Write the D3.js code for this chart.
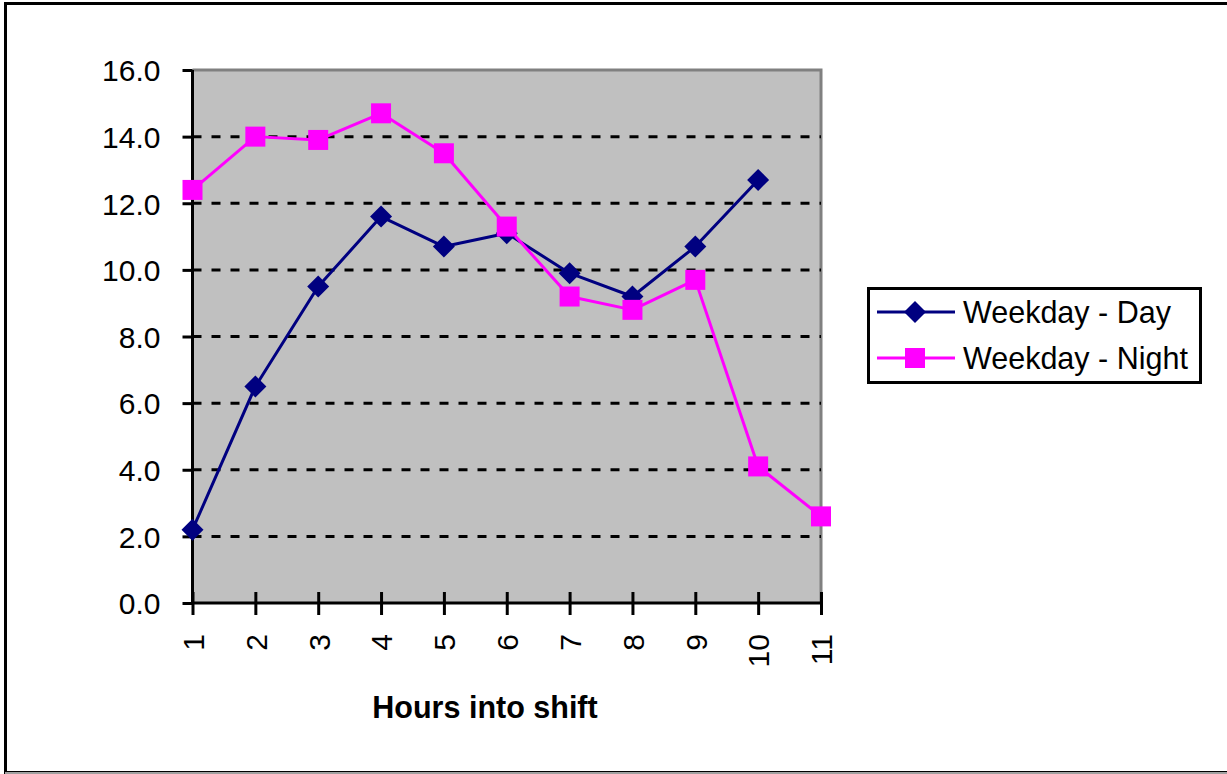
<!DOCTYPE html>
<html>
<head>
<meta charset="utf-8">
<script src="https://cdn.jsdelivr.net/npm/d3@7"></script>
<style>
  html, body { margin: 0; padding: 0; background: #fff; }
  svg { display: block; font-family: Arial, "Liberation Sans", sans-serif; }
</style>
</head>
<body>
<svg id="chart" width="1227" height="774"></svg>
<script>
// Hours into the shift (category axis)
const hours = ["1", "2", "3", "4", "5", "6", "7", "8", "9", "10", "11"];
// Values per hour for each shift type
const weekdayDay = [2.2, 6.5, 9.5, 11.6, 10.7, 11.1, 9.9, 9.2, 10.7, 12.7];
const weekdayNight = [12.4, 14.0, 13.9, 14.7, 13.5, 11.3, 9.2, 8.8, 9.7, 4.1, 2.6];
const yTicks = [0, 2, 4, 6, 8, 10, 12, 14, 16];
const seriesNames = ["Weekday - Day", "Weekday - Night"];

const svg = d3.select("#chart");

// outer chart frame
svg.append("rect")
  .attr("x", 5.5).attr("y", 3.5)
  .attr("width", 1240).attr("height", 769)
  .attr("fill", "none").attr("stroke", "#000").attr("stroke-width", 3);
svg.append("line")
  .attr("x1", 5).attr("x2", 1227).attr("y1", 773).attr("y2", 773)
  .attr("stroke", "#a0a0a0").attr("stroke-width", 2);

const plot = { left: 192.5, right: 821, top: 70, bottom: 603 };

const x = d3.scalePoint().domain(hours).range([plot.left, plot.right]).padding(0);
const y = d3.scaleLinear().domain([0, 16]).range([plot.bottom, plot.top]);

// plot background
svg.append("rect")
  .attr("x", plot.left).attr("y", plot.top)
  .attr("width", plot.right - plot.left).attr("height", plot.bottom - plot.top)
  .attr("fill", "#c0c0c0");

// plot border (top and right)
svg.append("path")
  .attr("d", `M${plot.left},${plot.top}H${plot.right}V${plot.bottom}`)
  .attr("fill", "none").attr("stroke", "#808080").attr("stroke-width", 3);

// dashed gridlines
svg.append("g")
  .selectAll("line")
  .data(yTicks.filter(v => v > 0 && v < 16))
  .join("line")
  .attr("x1", plot.left).attr("x2", plot.right)
  .attr("y1", d => y(d)).attr("y2", d => y(d))
  .attr("stroke", "#000").attr("stroke-width", 3)
  .attr("stroke-dasharray", "9,10");

// y axis
const yAxis = svg.append("g")
  .attr("transform", `translate(${plot.left},0)`)
  .call(d3.axisLeft(y).tickValues(yTicks).tickFormat(d3.format(".1f")).tickSize(10).tickPadding(22));
yAxis.select(".domain").attr("stroke-width", 3).attr("d", `M0,${plot.top}V${plot.bottom}`);
yAxis.selectAll(".tick line").attr("stroke-width", 3);
yAxis.selectAll(".tick text")
  .attr("font-size", 30).attr("font-family", "Arial, 'Liberation Sans', sans-serif")
  .attr("fill", "#000").attr("dy", "0.36em");

// x axis
const xAxis = svg.append("g")
  .attr("transform", `translate(0,${plot.bottom})`)
  .call(d3.axisBottom(x).tickSize(12).tickSizeOuter(0));
xAxis.select(".domain").attr("stroke-width", 3).attr("d", `M${plot.left},0H${plot.right}`);
xAxis.selectAll(".tick line").attr("stroke-width", 3).attr("y1", -11).attr("y2", 12);
xAxis.selectAll(".tick text")
  .attr("font-size", 30).attr("font-family", "Arial, 'Liberation Sans', sans-serif")
  .attr("fill", "#000")
  .attr("transform", "rotate(-90)")
  .attr("text-anchor", "end")
  .attr("x", -31).attr("y", 0).attr("dy", "0.36em");

// axis title
svg.append("text")
  .attr("x", 485).attr("y", 718)
  .attr("text-anchor", "middle")
  .attr("font-size", 30.5).attr("font-weight", "bold")
  .text("Hours into shift");

// series lines and markers
const line = d3.line().x((d, i) => x(hours[i])).y(d => y(d));
const colors = ["#000080", "#ff00ff"];

svg.append("path").datum(weekdayDay)
  .attr("d", line).attr("fill", "none")
  .attr("stroke", colors[0]).attr("stroke-width", 3).attr("stroke-linejoin", "round");
svg.append("path").datum(weekdayNight)
  .attr("d", line).attr("fill", "none")
  .attr("stroke", colors[1]).attr("stroke-width", 3).attr("stroke-linejoin", "round");

const diamond = "M0,-11L11,0L0,11L-11,0Z";
const square = "M-10,-10H10V10H-10Z";

svg.append("g").selectAll("path")
  .data(weekdayDay).join("path")
  .attr("transform", (d, i) => `translate(${x(hours[i])},${y(d)})`)
  .attr("d", diamond).attr("fill", colors[0]);
svg.append("g").selectAll("path")
  .data(weekdayNight).join("path")
  .attr("transform", (d, i) => `translate(${x(hours[i])},${y(d)})`)
  .attr("d", square).attr("fill", colors[1]);

// legend
const legend = svg.append("g");
legend.append("rect")
  .attr("x", 868.5).attr("y", 288.5).attr("width", 332).attr("height", 94)
  .attr("fill", "#fff").attr("stroke", "#000").attr("stroke-width", 3);
const markers = [diamond, square];
seriesNames.forEach((name, i) => {
  const cy = 312 + i * 46;
  legend.append("line")
    .attr("x1", 877).attr("x2", 955).attr("y1", cy).attr("y2", cy)
    .attr("stroke", colors[i]).attr("stroke-width", 3);
  legend.append("path")
    .attr("transform", `translate(915,${cy})`)
    .attr("d", markers[i]).attr("fill", colors[i]);
  legend.append("text")
    .attr("x", 963).attr("y", cy).attr("dy", "0.36em")
    .attr("font-size", 30.5).attr("fill", "#000")
    .text(name);
});
</script>
</body>
</html>
